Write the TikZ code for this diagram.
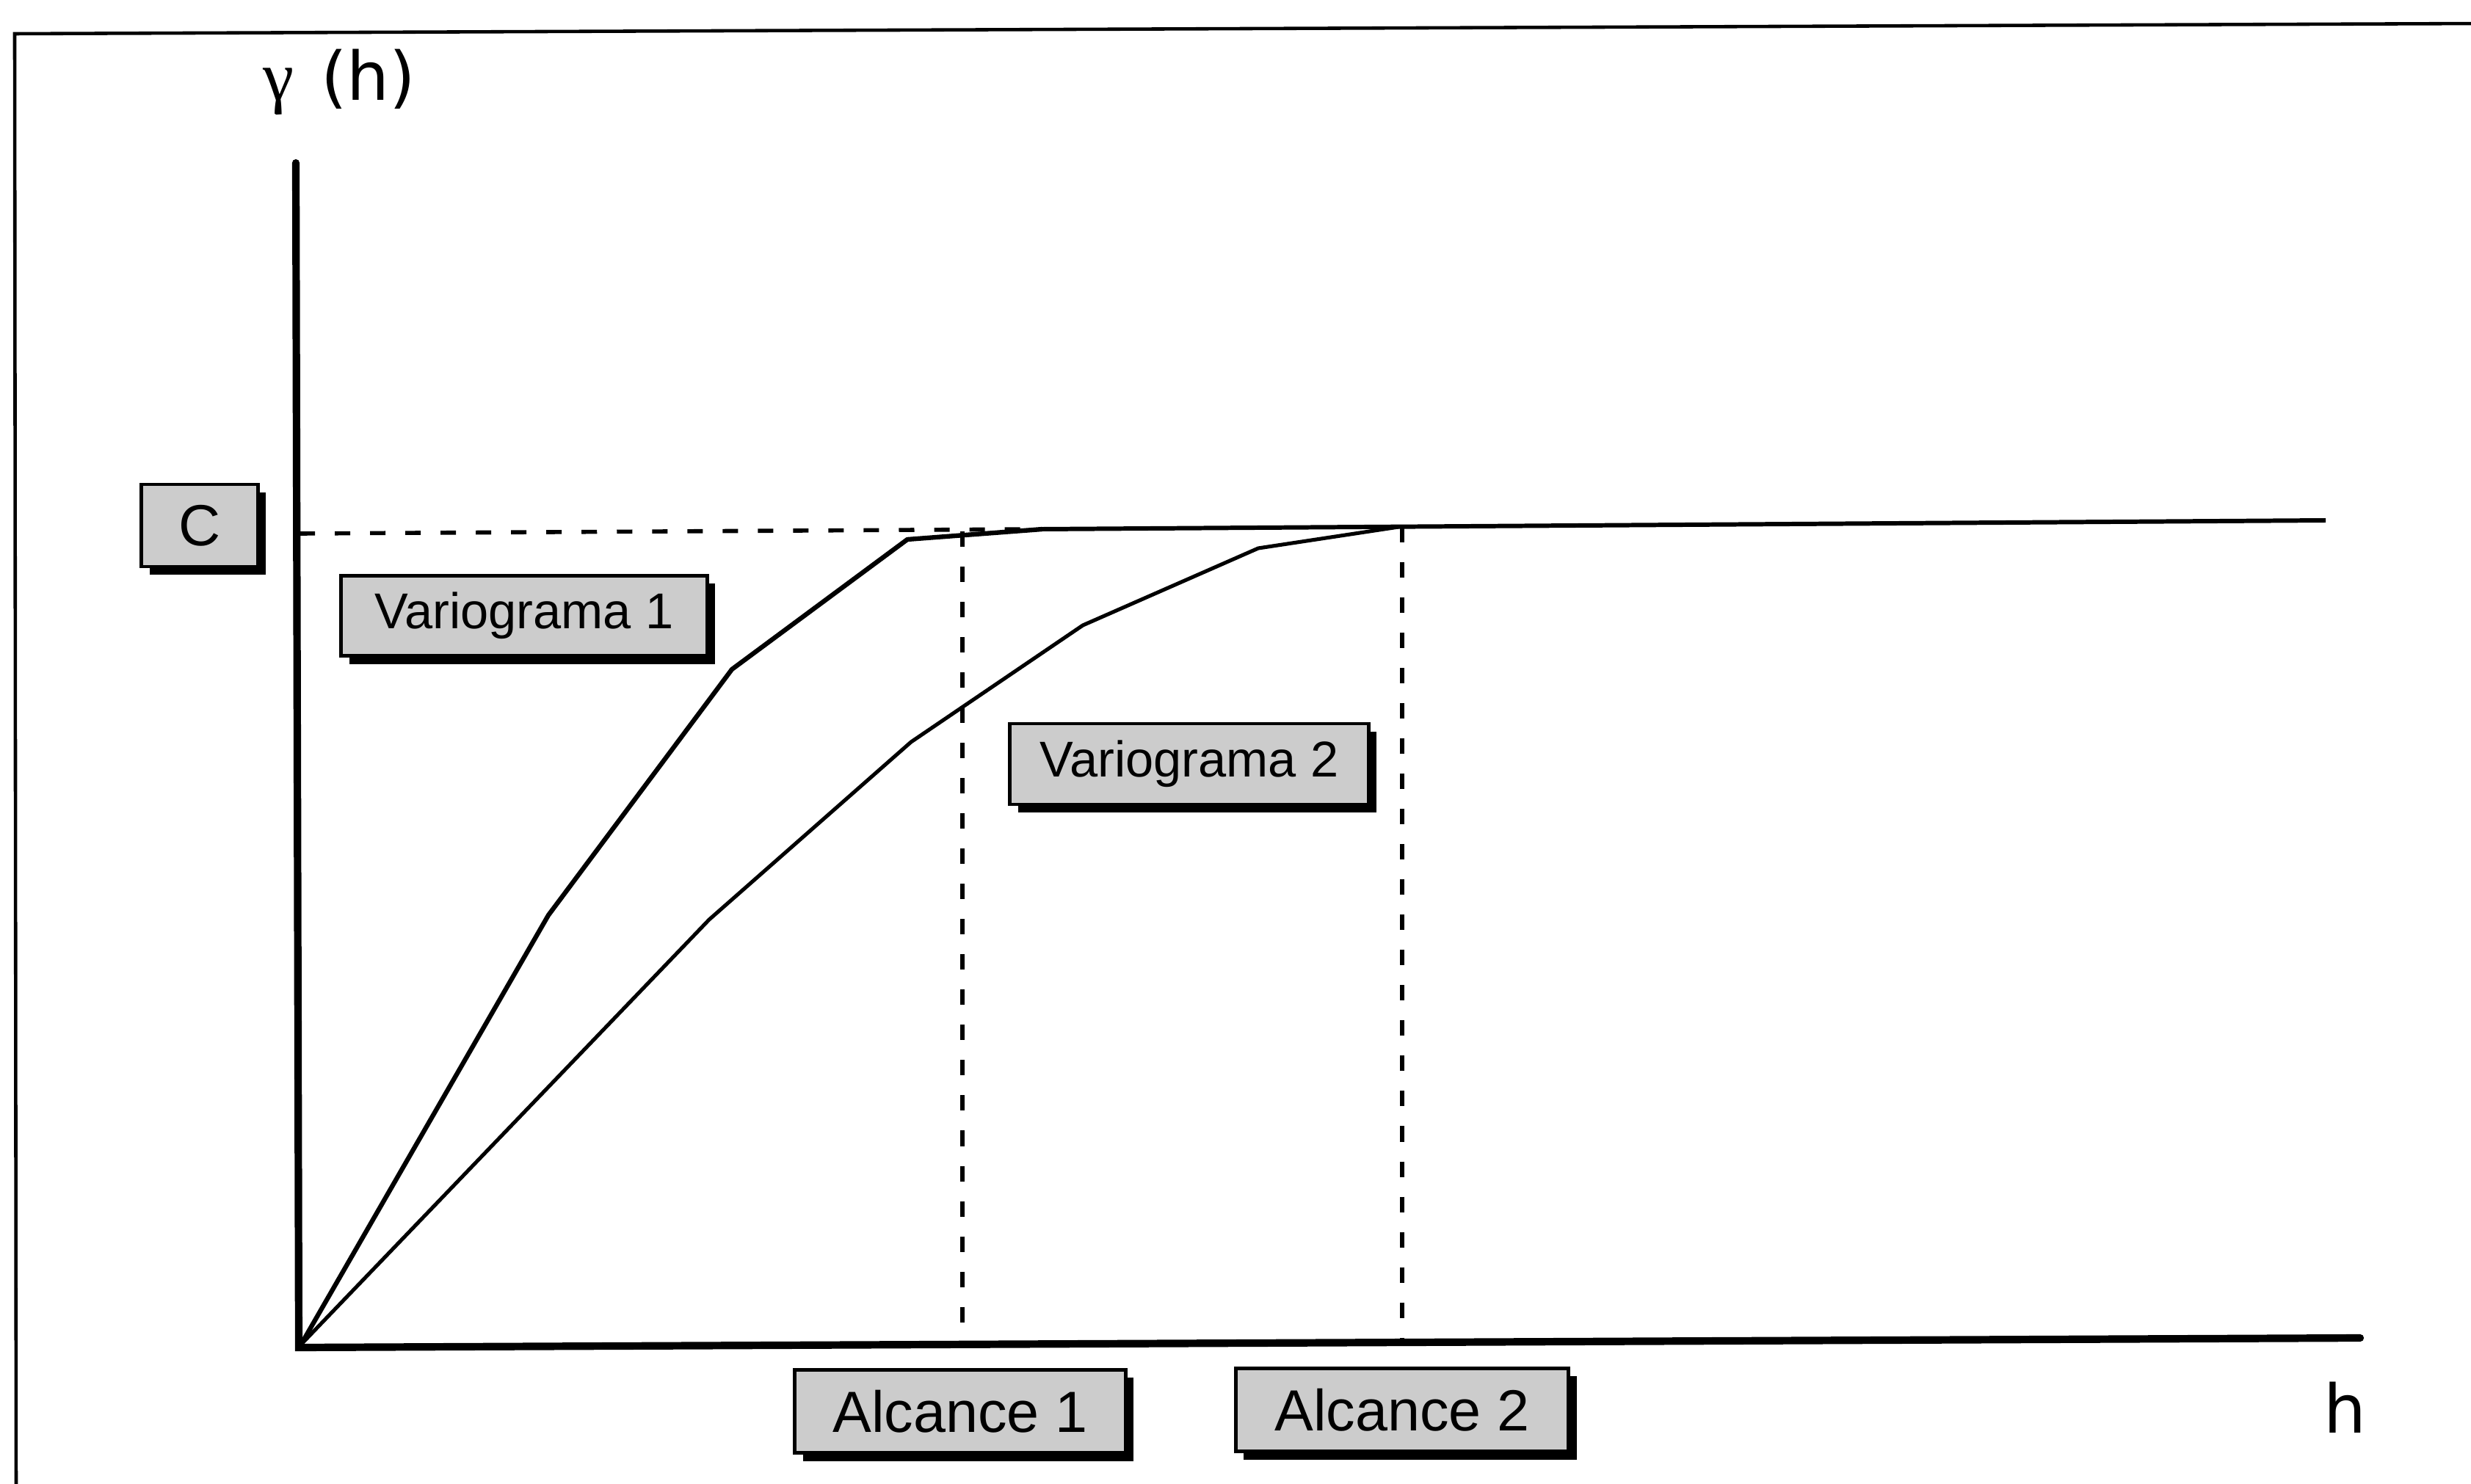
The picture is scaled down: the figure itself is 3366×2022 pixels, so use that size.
\documentclass[tikz,border=0pt]{standalone}
\usepackage{fontspec}
\setmainfont{Liberation Sans}
\newfontfamily\axisfont{DejaVu Sans}
\newfontfamily\gamfont{Liberation Serif}
\usetikzlibrary{shadows}
\begin{document}
\begin{tikzpicture}[x=0.01cm,y=-0.01cm,
  labbox/.style={draw=black, line width=1.4pt, fill=black!20, inner sep=0pt,
    drop shadow={shadow xshift=0.11cm, shadow yshift=-0.11cm, fill=black, opacity=1}},
  smallfont/.style={font=\fontsize{19.5}{23}\selectfont},
  bigfont/.style={font=\fontsize{22.5}{26}\selectfont},
  axisline/.style={line width=2.9pt, line cap=round},
  curveone/.style={line width=1.8pt, line join=round},
  curvetwo/.style={line width=1.45pt, line join=round},
  dashline/.style={line width=1.6pt, dash pattern=on 0.21cm off 0.27cm},
  frameline/.style={line width=1.3pt}
]
\useasboundingbox (0,0) rectangle (3366,2022);

% frame
\coordinate (fTL) at (20,46);
\coordinate (fTR) at (3380,32);
\coordinate (fBL) at (22,2040);
\draw[frameline] (fBL) -- (fTL) -- (fTR);

% axes
\coordinate (ytop) at (403,222);
\coordinate (O) at (407,1836);
\coordinate (xend) at (3215,1823);
\draw[axisline] (ytop) -- (O) -- (xend);

% sill: dashed then solid plateau
\coordinate (sillstart) at (408,727);
\coordinate (sillmeet) at (1420,721);
\coordinate (sillend) at (3168,709);
\draw[dashline] (sillstart) -- (sillmeet);
\draw[line width=1.7pt] (sillmeet) -- (sillend);

% range lines
\coordinate (r1top) at (1311,724);
\coordinate (r1bot) at (1311,1834);
\coordinate (r2top) at (1910,718);
\coordinate (r2bot) at (1910,1830);
\draw[dashline] (r1top) -- (r1bot);
\draw[dashline] (r2top) -- (r2bot);

% variogram 1
\coordinate (a1) at (747,1247);
\coordinate (a2) at (997,912);
\coordinate (a3) at (1236,735);
\draw[curveone] (410,1832) -- (a1) -- (a2) -- (a3) -- (sillmeet);

% variogram 2
\coordinate (b1) at (966,1253);
\coordinate (b2) at (1241,1011);
\coordinate (b3) at (1475,852);
\coordinate (b4) at (1714,747);
\coordinate (b5) at (1905,718);
\draw[curvetwo] (410,1832) -- (b1) -- (b2) -- (b3) -- (b4) -- (b5);

% labels
\node[labbox, bigfont, minimum width=1.58cm, minimum height=1.12cm] (C) at (272,716) {C};
\node[labbox, smallfont, minimum width=4.98cm, minimum height=1.09cm] (v1) at (714,839) {Variograma 1};
\node[labbox, smallfont, minimum width=4.88cm, minimum height=1.10cm] (v2) at (1620,1041) {Variograma 2};
\node[labbox, bigfont, minimum width=4.50cm, minimum height=1.13cm] (al1) at (1308,1923) {Alcance 1};
\node[labbox, bigfont, minimum width=4.53cm, minimum height=1.13cm] (al2) at (1910,1921) {Alcance 2};

\node[font=\fontsize{26}{30}\selectfont, anchor=base west, inner sep=0pt] (gam) at (358,137) {{\gamfont\fontsize{27}{30}\selectfont γ}\hspace{0.4em}{\axisfont (h)}};
\node[font=\axisfont\fontsize{26}{30}\selectfont, anchor=base west, inner sep=0pt] (hlab) at (3165,1952) {h};
\end{tikzpicture}
\end{document}
